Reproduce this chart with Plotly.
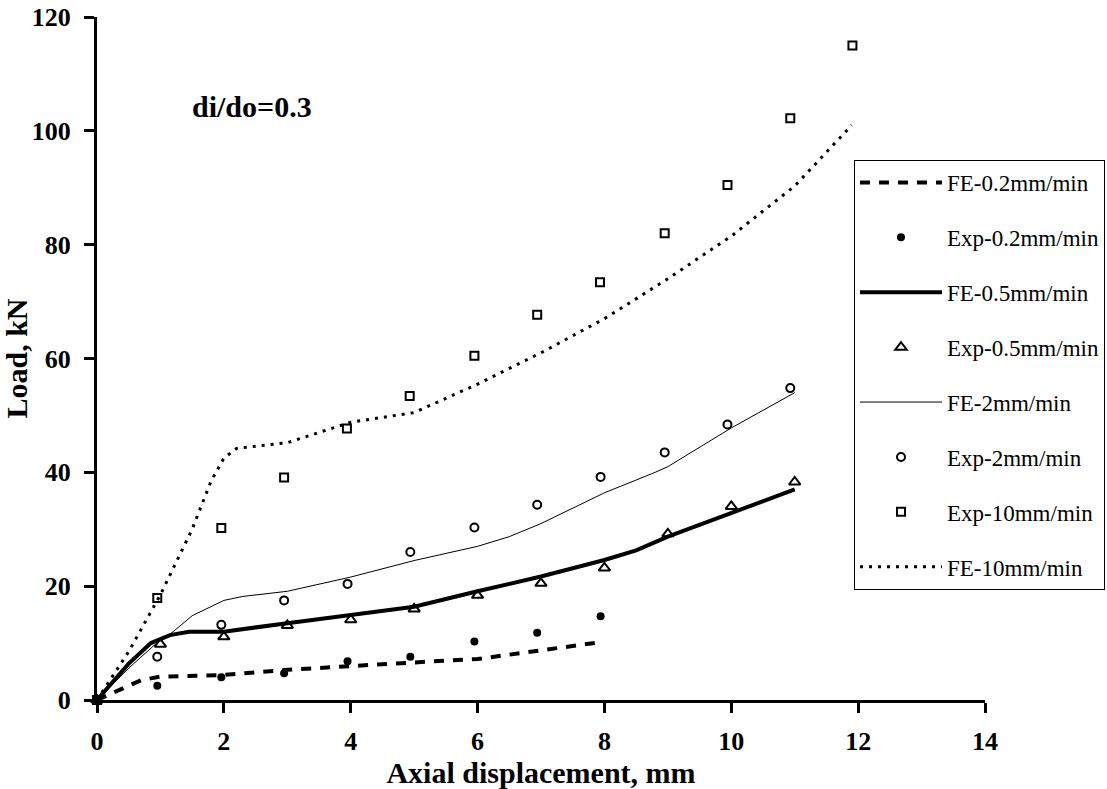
import plotly.graph_objects as go

# ---------------- data ----------------
fe02_x = [0, 0.35, 0.7, 1.0, 2.0, 3.0, 4.0, 5.0, 6.0, 6.5, 7.0, 7.5, 7.9]
fe02_y = [0, 1.8, 3.5, 4.1, 4.4, 5.3, 6.0, 6.6, 7.2, 8.0, 8.8, 9.6, 10.1]

exp02_x = [0, 0.95, 1.96, 2.95, 3.95, 4.94, 5.95, 6.94, 7.94]
exp02_y = [0, 2.5, 4.0, 4.7, 6.8, 7.6, 10.3, 11.8, 14.7]

fe05_x = [0, 0.5, 0.85, 1.15, 1.45, 2.0, 3.0, 4.0, 5.0, 6.0, 7.0, 8.0, 8.5, 9.0, 10.0, 11.0]
fe05_y = [0, 6.4, 10.0, 11.4, 12.0, 12.0, 13.5, 14.9, 16.4, 19.1, 21.7, 24.6, 26.3, 28.7, 32.8, 37.0]

exp05_x = [0, 1, 2, 3, 4, 5, 6, 7, 8, 9, 10, 11]
exp05_y = [0, 9.8, 11.1, 13.1, 14.1, 16.0, 18.4, 20.5, 23.2, 29.2, 34.0, 38.3]

fe2_x = [0, 0.5, 0.9, 1.2, 1.5, 2.0, 2.3, 3.0, 4.0, 5.0, 6.0, 6.5, 7.0, 8.0, 8.8, 9.0, 10.0, 11.0]
fe2_y = [0, 5.6, 9.6, 12.0, 14.8, 17.5, 18.2, 19.1, 21.6, 24.5, 27.0, 28.7, 31.0, 36.4, 40.0, 41.0, 47.8, 54.0]

exp2_x = [0, 0.95, 1.96, 2.95, 3.95, 4.94, 5.95, 6.94, 7.94, 8.95, 9.94, 10.93]
exp2_y = [0, 7.6, 13.2, 17.5, 20.4, 26.0, 30.3, 34.3, 39.2, 43.5, 48.4, 54.8]

exp10_x = [0, 0.95, 1.96, 2.95, 3.94, 4.93, 5.95, 6.94, 7.93, 8.95, 9.94, 10.93, 11.91]
exp10_y = [0, 17.9, 30.2, 39.1, 47.7, 53.4, 60.5, 67.7, 73.4, 82.0, 90.5, 102.2, 115.0]

fe10_x = [0, 0.5, 1.0, 1.5, 1.8, 2.0, 2.2, 3.0, 3.5, 4.0, 5.0, 6.0, 7.0, 8.0, 9.0, 10.0, 11.0, 11.9]
fe10_y = [0, 8.5, 18.5, 30.0, 38.5, 42.5, 44.2, 45.2, 47.0, 48.8, 50.5, 55.5, 61.0, 67.0, 74.0, 81.5, 90.3, 101.0]

x_ticks = [0, 2, 4, 6, 8, 10, 12, 14]
y_ticks = [0, 20, 40, 60, 80, 100, 120]

FONT = "Liberation Serif"

fig = go.Figure()

fig.add_trace(go.Scatter(x=fe02_x, y=fe02_y, mode="lines", name="FE-0.2mm/min",
                         legendgroup="a",
                         line=dict(color="black", width=4, dash="10px,9px")))
fig.add_trace(go.Scatter(x=exp02_x, y=exp02_y, mode="markers", name="Exp-0.2mm/min",
                         legendgroup="b", cliponaxis=False,
                         marker=dict(symbol="circle", size=8, color="black")))
fig.add_trace(go.Scatter(x=fe05_x, y=fe05_y, mode="lines", name="FE-0.5mm/min",
                         legendgroup="c",
                         line=dict(color="black", width=4)))
fig.add_trace(go.Scatter(x=exp05_x, y=exp05_y, mode="markers", name="Exp-0.5mm/min",
                         legendgroup="d", cliponaxis=False,
                         marker=dict(symbol="triangle-up-open", size=10, color="black",
                                     line=dict(width=2, color="black"))))
fig.add_trace(go.Scatter(x=fe2_x, y=fe2_y, mode="lines", name="FE-2mm/min",
                         legendgroup="e",
                         line=dict(color="black", width=1)))
fig.add_trace(go.Scatter(x=exp2_x, y=exp2_y, mode="markers", name="Exp-2mm/min",
                         legendgroup="f", cliponaxis=False,
                         marker=dict(symbol="circle-open", size=8, color="black",
                                     line=dict(width=2, color="black"))))
fig.add_trace(go.Scatter(x=exp10_x, y=exp10_y, mode="markers", name="Exp-10mm/min",
                         legendgroup="g", cliponaxis=False,
                         marker=dict(symbol="square-open", size=8, color="black",
                                     line=dict(width=2, color="black"))))
fig.add_trace(go.Scatter(x=fe10_x, y=fe10_y, mode="lines", name="FE-10mm/min",
                         legendgroup="h",
                         line=dict(color="black", width=3, dash="3px,6px")))

fig.add_annotation(x=2.44, y=104.2, xref="x", yref="y", text="di/do=0.3",
                   showarrow=False,
                   font=dict(family=FONT, size=30, color="black", weight="bold"))

tick_font = dict(family=FONT, size=26, color="black", weight="bold")
title_font = dict(family=FONT, size=30, color="black", weight="bold")

fig.update_layout(
    width=1107, height=789,
    margin=dict(l=97, r=122, t=17, b=89, autoexpand=False),
    paper_bgcolor="white", plot_bgcolor="white",
    font=dict(family=FONT, color="black"),
    showlegend=True,
    legend=dict(x=(854 - 97) / 888, y=(700 - 160) / 683, xanchor="left", yanchor="top",
                bgcolor="white", bordercolor="black", borderwidth=1,
                font=dict(family=FONT, size=23, color="black"),
                traceorder="grouped", tracegroupgap=22, itemwidth=82),
    xaxis=dict(range=[0, 14], tickvals=x_ticks, ticktext=[str(v) for v in x_ticks],
               showgrid=False, zeroline=False, showline=True, linecolor="black", linewidth=3,
               ticks="outside", ticklen=10, tickwidth=3, tickcolor="black",
               ticklabelstandoff=6,
               tickfont=tick_font,
               title=dict(text="Axial displacement, mm", standoff=0, font=title_font)),
    yaxis=dict(range=[0, 120], tickvals=y_ticks, ticktext=[str(v) for v in y_ticks],
               showgrid=False, zeroline=False, showline=True, linecolor="black", linewidth=3,
               ticks="outside", ticklen=10, tickwidth=3, tickcolor="black",
               ticklabelstandoff=8,
               tickfont=tick_font,
               title=dict(text="Load, kN", standoff=2, font=title_font)),
)

fig.write_html("out.html")
